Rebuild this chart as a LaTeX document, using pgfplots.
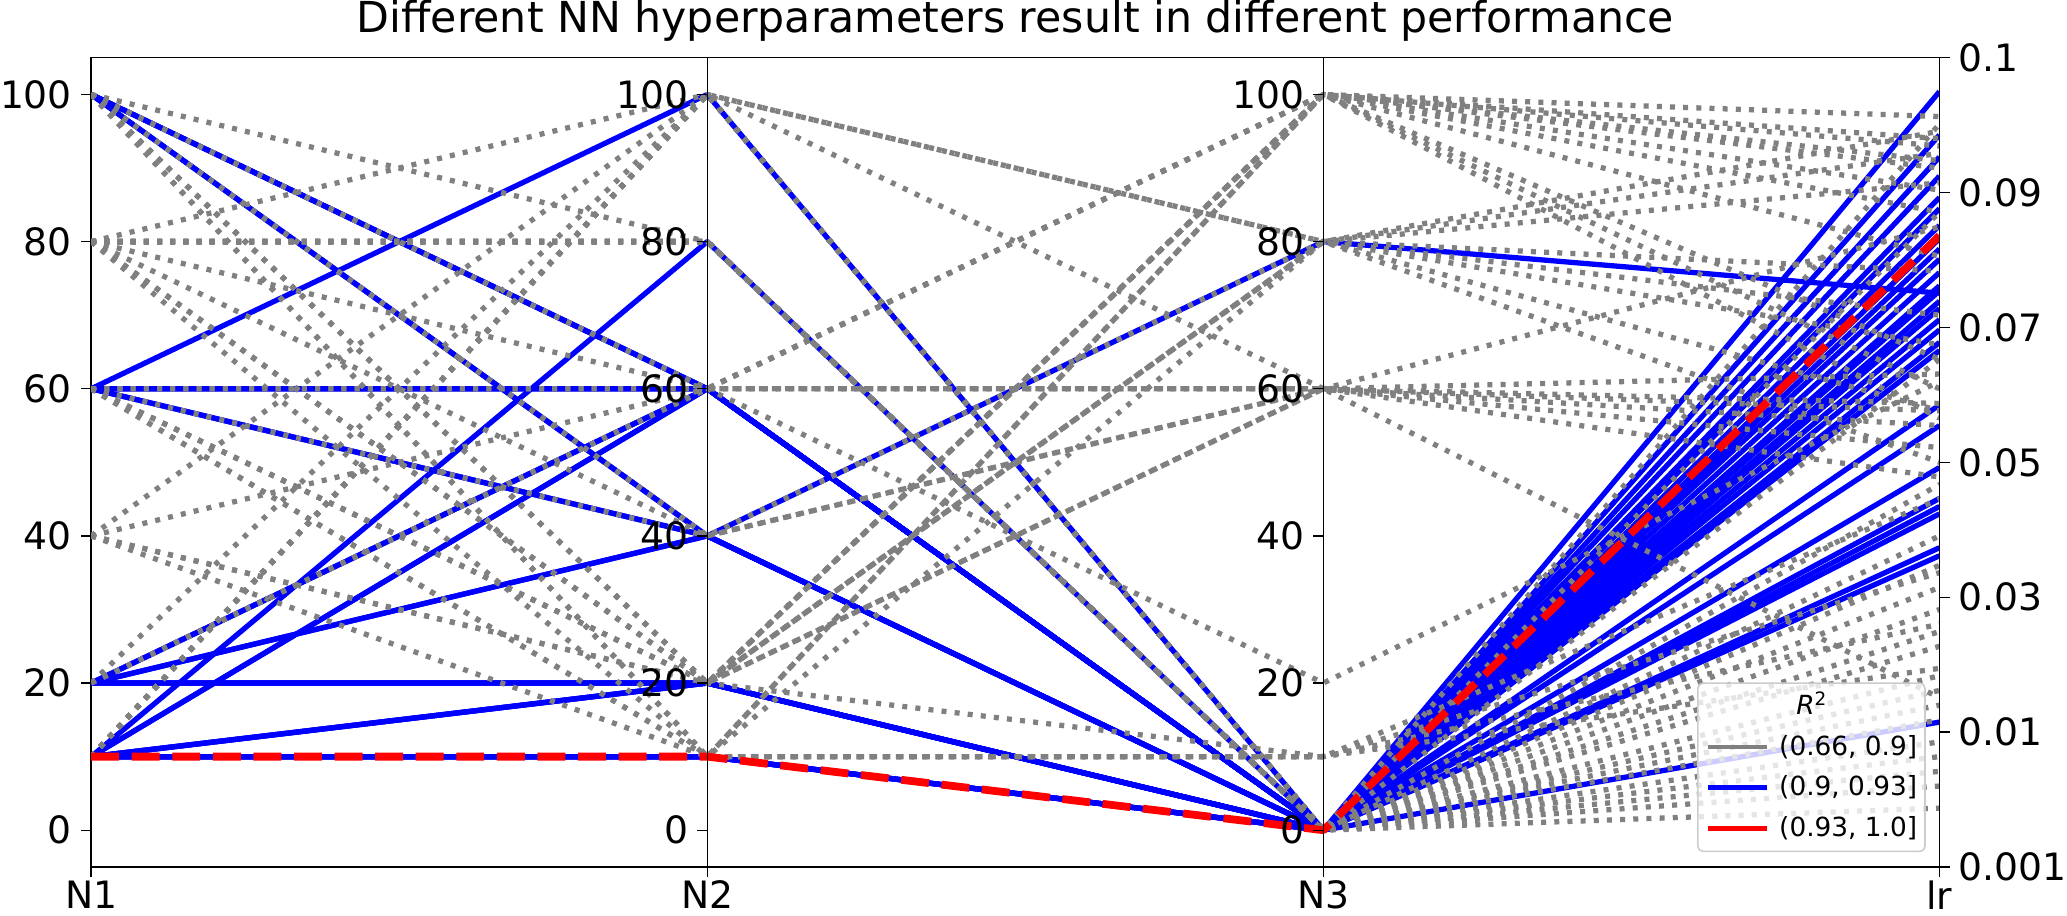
\documentclass[border=0pt]{standalone}
\usepackage{fontspec}
\setmainfont{DejaVu Sans}[ItalicFont={DejaVu Sans Oblique}]
\usepackage{pgfplots}
\pgfplotsset{compat=1.18}
\definecolor{mplgray}{RGB}{128,128,128}
\definecolor{mplblue}{RGB}{0,0,255}
\definecolor{mplred}{RGB}{255,0,0}
\pgfplotsset{
  gline/.style={color=mplgray, line width=2pt, dash pattern=on 1.9pt off 3.1pt, line join=round},
  bline/.style={color=mplblue, line width=2pt, solid, line join=round},
  rline/.style={color=mplred, line width=2.95pt, dash pattern=on 10.6pt off 4.8pt, line join=round},
  tickfont/.style={font=\fontsize{14.3}{17}\selectfont},
}
% one polyline per configuration: (N1, N2, N3, lr); lr given in the plotted (scaled) units
\newcommand{\gl}[4]{\addplot[gline, forget plot] coordinates {(0,#1) (1,#2) (2,#3) (3,#4)};}
\newcommand{\bl}[4]{\addplot[bline, forget plot] coordinates {(0,#1) (1,#2) (2,#3) (3,#4)};}
\newcommand{\rl}[4]{\addplot[rline, forget plot] coordinates {(0,#1) (1,#2) (2,#3) (3,#4)};}
\begin{document}
\begin{tikzpicture}
\useasboundingbox (-34.6pt,-18.3pt) rectangle (750.0pt,329.1pt);
\begin{axis}[
  at={(0pt,0pt)}, anchor=south west,
  scale only axis, width=701.6pt, height=307.2pt,
  xmin=0, xmax=3, ymin=-5, ymax=105,
  axis line style={line width=0.5pt, black},
  xtick={0,1,2,3}, xticklabels={N1,N2,N3,lr},
  ytick={0,20,40,60,80,100},
  xtick pos=left, ytick pos=left,
  tick align=outside, major tick length=3.8pt,
  tick style={black, line width=0.5pt},
  ticklabel style={tickfont},
  /pgf/number format/assume math mode=true,
  yticklabel style={inner sep=3.3pt},
  xticklabel style={inner sep=0pt, anchor=north, yshift=-1.2pt},
  title={Different NN hyperparameters result in different performance},
  title style={font=\fontsize{16.2}{19}\selectfont, at={(0.5,1)}, anchor=base, yshift=3.5pt, inner sep=0pt},
  legend style={at={(1,0)}, anchor=south east, xshift=-5.2pt, yshift=5.6pt,
    draw=black!20, line width=0.6pt, fill=white, fill opacity=0.8, draw opacity=1, text opacity=1,
    rounded corners=2pt, font=\fontsize{10}{12}\selectfont,
    inner xsep=3pt, inner ysep=4.4pt, row sep=6.5pt,
    nodes={inner sep=0pt, text height=7.6pt, text depth=1.3pt},
    column sep=3.7pt},
  legend cell align=left,
  legend image code/.code={\draw[#1, solid, line width=1.8pt] (0pt,0pt) -- (22.4pt,0pt);},
]
% ---- (0.9, 0.93] ----
\bl{60}{100}{0}{100.4}
\bl{10}{80}{0}{94.5}
\bl{100}{60}{0}{88.9}
\bl{60}{60}{0}{86.0}
\bl{20}{60}{0}{82.2}
\bl{10}{10}{0}{80.4}
\bl{100}{40}{80}{73.0}
\bl{60}{40}{0}{77.6}
\bl{20}{40}{0}{75.8}
\bl{20}{20}{0}{71.9}
\bl{10}{20}{0}{70.9}
\bl{10}{10}{0}{69.4}
\bl{100}{60}{0}{68.0}
\bl{60}{60}{0}{66.3}
\bl{20}{60}{0}{57.8}
\bl{10}{60}{0}{55.0}
\bl{100}{40}{0}{49.3}
\bl{60}{40}{0}{45.1}
\bl{20}{40}{0}{44.0}
\bl{20}{20}{0}{43.0}
\bl{10}{20}{0}{38.4}
\bl{10}{10}{0}{37.3}
\bl{10}{10}{0}{14.7}
\bl{60}{60}{0}{79.0}
\bl{10}{60}{0}{74.0}
\bl{20}{20}{0}{73.3}
\bl{10}{10}{0}{65.2}
\bl{100}{60}{0}{84.5}
\bl{10}{20}{0}{91.5}
% ---- (0.66, 0.9] ----
% through N2=100 -> N3=0
\gl{10}{100}{0}{96}
\gl{10}{100}{0}{30}
\gl{10}{100}{0}{21}
\gl{10}{100}{0}{12}
\gl{10}{100}{0}{84}
\gl{10}{100}{0}{25}
\gl{10}{100}{0}{17}
\gl{10}{100}{0}{8}
\gl{10}{100}{0}{64}
\gl{10}{100}{0}{36}
% through N2=80 -> N3=0
\gl{100}{80}{0}{40}
\gl{80}{80}{0}{27}
\gl{80}{80}{0}{15}
\gl{80}{80}{0}{3}
\gl{80}{80}{0}{47}
\gl{80}{80}{0}{33}
\gl{80}{80}{0}{19}
\gl{80}{80}{0}{10}
\gl{80}{80}{0}{6}
% the others
\gl{80}{100}{80}{88}
\gl{40}{100}{60}{57}
\gl{20}{100}{80}{92}
\gl{100}{60}{100}{97}
\gl{100}{60}{100}{90}
\gl{60}{60}{100}{94}
\gl{60}{60}{60}{62}
\gl{20}{60}{60}{58}
\gl{20}{60}{100}{64}
\gl{40}{60}{60}{52}
\gl{80}{60}{20}{61}
\gl{100}{40}{80}{95}
\gl{100}{40}{80}{66}
\gl{80}{40}{60}{55}
\gl{60}{40}{60}{82}
\gl{100}{20}{100}{87}
\gl{100}{20}{100}{84}
\gl{80}{20}{100}{78}
\gl{60}{20}{100}{60}
\gl{100}{20}{80}{76}
\gl{40}{20}{80}{57}
\gl{80}{20}{60}{48}
\gl{60}{20}{60}{18}
\gl{40}{20}{10}{28}
\gl{100}{10}{100}{56}
\gl{80}{10}{100}{91}
\gl{60}{10}{80}{50}
\gl{40}{10}{10}{45}
\gl{60}{10}{10}{22}
\gl{100}{10}{10}{35}
\gl{80}{20}{100}{93}
\gl{60}{20}{80}{70}
% ---- (0.93, 1.0] ----
\rl{10}{10}{0}{80.8}
% ---- legend ----
\addlegendimage{empty legend}
\addlegendentry{\hspace*{6.5pt}\textit{R}\textsuperscript{2}}
\addlegendimage{color=mplgray}
\addlegendentry{(0.66, 0.9]}
\addlegendimage{color=mplblue}
\addlegendentry{(0.9, 0.93]}
\addlegendimage{color=mplred}
\addlegendentry{(0.93, 1.0]}
\end{axis}
% N2 axis
\begin{axis}[
  at={(233.87pt,0pt)}, anchor=south west,
  scale only axis, width=467.73pt, height=307.2pt,
  xmin=0, xmax=2, ymin=-5, ymax=105,
  axis x line=none, axis y line*=left,
  axis line style={line width=0.5pt, black, -},
  ytick={0,20,40,60,80,100},
  tick align=outside, major tick length=3.8pt,
  tick style={black, line width=0.5pt},
  ticklabel style={tickfont},
  /pgf/number format/assume math mode=true,
  yticklabel style={inner sep=3.3pt},
]
\end{axis}
% N3 axis
\begin{axis}[
  at={(467.73pt,0pt)}, anchor=south west,
  scale only axis, width=233.87pt, height=307.2pt,
  xmin=0, xmax=1, ymin=-5, ymax=105,
  axis x line=none, axis y line*=left,
  axis line style={line width=0.5pt, black, -},
  ytick={0,20,40,60,80,100},
  tick align=outside, major tick length=3.8pt,
  tick style={black, line width=0.5pt},
  ticklabel style={tickfont},
  /pgf/number format/assume math mode=true,
  yticklabel style={inner sep=3.3pt},
]
\end{axis}
% lr axis (right)
\begin{axis}[
  at={(0pt,0pt)}, anchor=south west,
  scale only axis, width=701.6pt, height=307.2pt,
  xmin=0, xmax=3, ymin=-5, ymax=105,
  axis x line=none, axis y line*=right,
  axis line style={line width=0.5pt, black, -},
  ytick={-5,13.333,31.667,50,68.333,86.667,105},
  yticklabels={0.001,0.01,0.03,0.05,0.07,0.09,0.1},
  tick align=outside, major tick length=3.8pt,
  tick style={black, line width=0.5pt},
  ticklabel style={tickfont},
  yticklabel style={inner sep=3.3pt},
]
\end{axis}
\end{tikzpicture}
\end{document}
